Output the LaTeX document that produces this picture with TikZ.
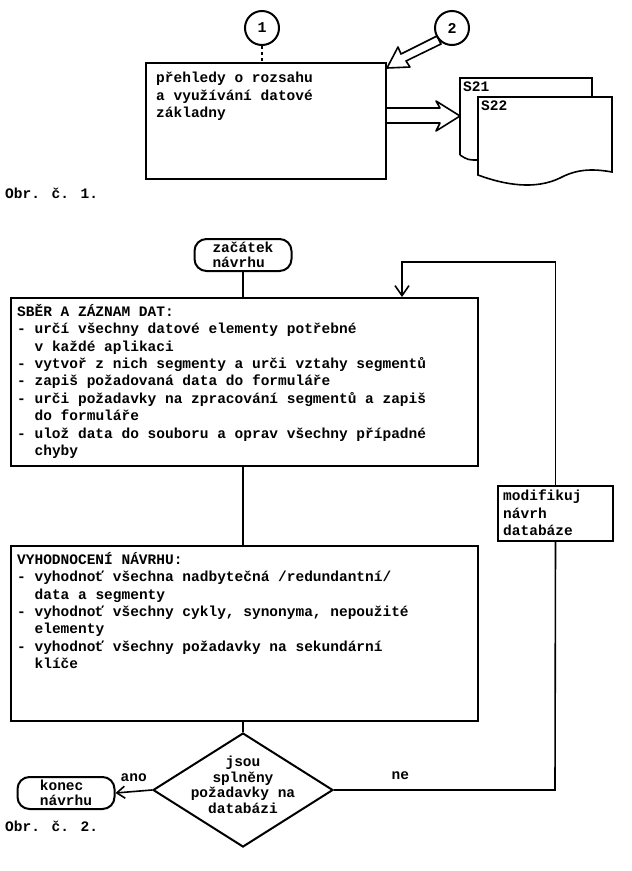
\documentclass[tikz,border=0pt]{standalone}
\usepackage{fontspec}
\setmainfont{Liberation Mono}
\usetikzlibrary{shapes.geometric,arrows.meta}
\begin{document}
\begin{tikzpicture}[x=1pt,y=-1pt,
  ln/.style={line width=1.6pt},
  txt/.style={font=\bfseries\fontsize{14.5}{17.4}\selectfont,align=left,inner sep=0pt},
  box/.style={draw,line width=2pt,anchor=north west,inner sep=0pt},
  term/.style={draw,line width=2pt,rounded corners=12pt,minimum width=97pt,minimum height=32pt,inner sep=0pt,align=left,font=\bfseries\fontsize{14.5}{15}\selectfont},
  circ/.style={draw,circle,line width=2pt,minimum size=34pt,inner sep=0pt,font=\bfseries\fontsize{15}{15}\selectfont}]
\useasboundingbox (0,0) rectangle (632,871);
% figure 1
\node[circ] (c1) at (262,28) {1};
\node[circ] (c2) at (452,28) {2};
\node[box,minimum width=240pt,minimum height=116pt] (b1) at (145,62) {};
\node[txt,anchor=north west] (t1) at (156,72) {přehledy o rozsahu\\a využívání datové\\základny};
\draw[ln,dashed] (c1.south) -- (b1.north -| c1);
% hollow arrow from circle 2
\coordinate (tipA) at (387,68);
\draw[ln,line join=round] (tipA) -- (398,47) -- (401,54) -- (437,36) -- (441,44) -- (406,61) -- (410,67) -- cycle;
% documents
\draw[ln] (460,155) -- (460,78) -- (592,78) -- (592,97);
\draw[ln] (460,155) .. controls (468,160) .. (478,160);
\node[txt,anchor=north west] (s21) at (463,82) {S21};
\draw[ln] (478,97) -- (612,97) -- (612,172) .. controls (590,168) and (575,170) .. (560,178) .. controls (535,190) and (505,185) .. (478,175) -- cycle;
\node[txt,anchor=north west] (s22) at (481,101) {S22};
\draw[ln,line join=round] (385,108) -- (440,108) -- (436,101) -- (460,116) -- (436,131) -- (440,123) -- (385,123);
\node[txt,anchor=north west] (o1) at (5,188) {Obr. č. 1.};
% figure 2
\node[term] (start) at (243,255) {začátek\\návrhu};
\node[box,minimum width=467pt,minimum height=168pt] (s1) at (10,297) {};
\node[txt,anchor=north west] at (17,304) {SBĚR A ZÁZNAM DAT:\\- určí všechny datové elementy potřebné\\\ \ v každé aplikaci\\- vytvoř z nich segmenty a urči vztahy segmentů\\- zapiš požadovaná data do formuláře\\- urči požadavky na zpracování segmentů a zapiš\\\ \ do formuláře\\- ulož data do souboru a oprav všechny případné\\\ \ chyby};
\node[box,minimum width=467pt,minimum height=175pt] (s2) at (10,545) {};
\node[txt,anchor=north west] at (17,552) {VYHODNOCENÍ NÁVRHU:\\- vyhodnoť všechna nadbytečná /redundantní/\\\ \ data a segmenty\\- vyhodnoť všechny cykly, synonyma, nepoužité\\\ \ elementy\\- vyhodnoť všechny požadavky na sekundární\\\ \ klíče};
\node[draw,diamond,line width=2pt,minimum width=180pt,minimum height=114pt,inner sep=0pt,aspect=1.58] (d) at (243,790) {};
\node[align=center,inner sep=0pt,font=\bfseries\fontsize{14.5}{15.5}\selectfont] at (243,785) {jsou\\splněny\\požadavky na\\databázi};
\node[term] (end) at (66,793) {konec\\návrhu};
\node[box,minimum width=115pt,minimum height=55pt] (m) at (497,485) {};
\node[txt,anchor=north west] at (503,490) {modifikuj\\návrh\\databáze};
\node[txt,anchor=north west] at (5,821) {Obr. č. 2.};
\draw[ln] (start) -- (start |- s1.north);
\draw[ln] (s1.south -| start) -- (s2.north -| start);
\draw[ln] (s2.south -| start) -- (d.north);
\draw[ln,-{Straight Barb[length=8pt,width=12pt]}] (d.west) -- (end.east) node[midway,above=6pt,font=\bfseries\fontsize{14.5}{15}\selectfont]{ano};
\draw[ln] (d.east) -- (555,790) node[pos=0.3,above=6pt,font=\bfseries\fontsize{14.5}{15}\selectfont]{ne} -- (m.south);
\coordinate (turn) at (402,262);
\draw[ln,-{Straight Barb[length=10pt,width=14pt]}] (m.north) |- (turn) -- (turn |- s1.north);
\end{tikzpicture}
\end{document}
